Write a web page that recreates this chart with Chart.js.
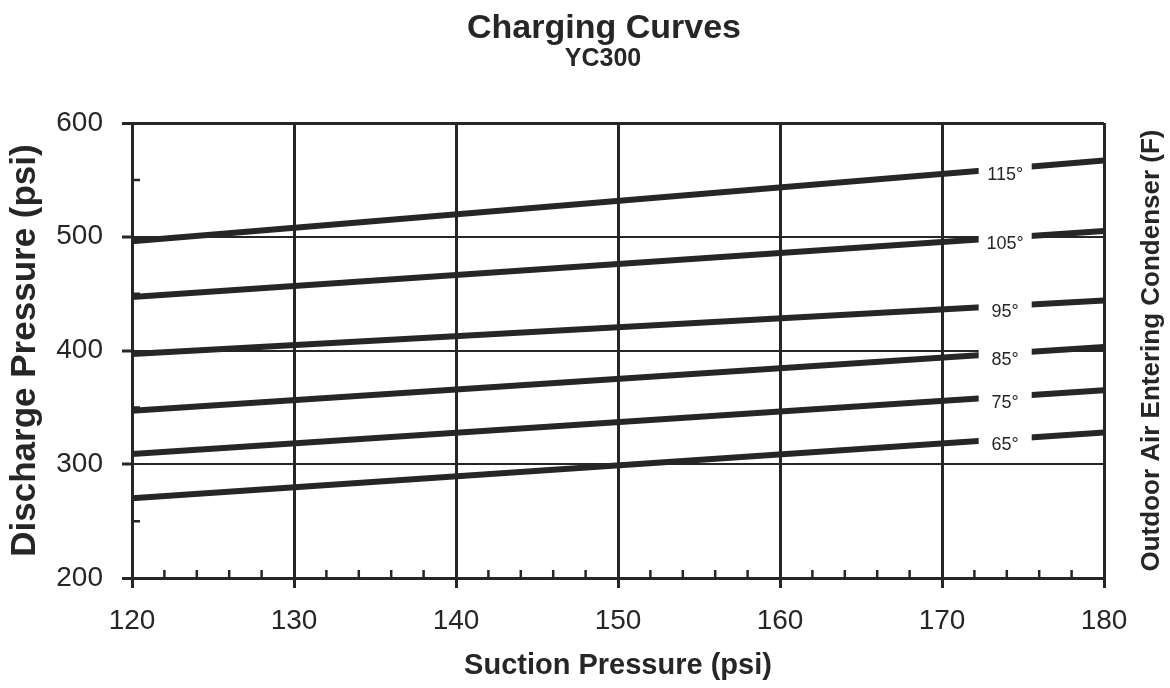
<!DOCTYPE html>
<html>
<head>
<meta charset="utf-8">
<script src="https://cdn.jsdelivr.net/npm/chart.js@4.4.1/dist/chart.umd.min.js"></script>
<style>
  html, body { margin: 0; padding: 0; background: #fff; }
  #wrap { width: 1170px; height: 688px; }
</style>
</head>
<body>
<div id="wrap"><canvas id="chart"></canvas></div>
<script>
// Charging curves data
const suction = [120, 180];
const curveNames = ['115°', '105°', '95°', '85°', '75°', '65°'];
const discharge115 = [496, 567];
const discharge105 = [447, 505];
const discharge95 = [397, 444];
const discharge85 = [347, 403];
const discharge75 = [309, 365];
const discharge65 = [270, 328];
const xMinorTicks = [122, 124, 126, 128, 132, 134, 136, 138, 142, 144, 146, 148,
                     152, 154, 156, 158, 162, 164, 166, 168, 172, 174, 176, 178];
const yMinorTicks = [250, 350, 450, 550];
const labelAt = 173.9; // suction psi where the curve names sit

const ink = '#262626';
const family = '"Liberation Sans", Arial, sans-serif';

const seriesValues = [discharge115, discharge105, discharge95, discharge85, discharge75, discharge65];
const datasets = seriesValues.map((vals, i) => ({
    label: curveNames[i],
    data: vals.map((v, j) => ({ x: suction[j], y: v })),
    borderColor: ink,
    borderWidth: 6,
    borderCapStyle: 'butt',
    pointRadius: 0,
    tension: 0,
    fill: false
}));

// curve names in white boxes, minor ticks, titles
const decor = {
    id: 'decor',
    afterDatasetsDraw(chart) {
        const ctx = chart.ctx;
        const xs = chart.scales.x;
        ctx.save();
        chart.data.datasets.forEach((ds, i) => {
            const pts = chart.getDatasetMeta(i).data;
            const px = xs.getPixelForValue(labelAt);
            const t = (px - pts[0].x) / (pts[1].x - pts[0].x);
            const py = pts[0].y + (pts[1].y - pts[0].y) * t;
            ctx.fillStyle = '#fff';
            ctx.fillRect(px - 26.5, py - 8, 53, 24);
            ctx.fillStyle = ink;
            ctx.font = '18px ' + family;
            ctx.textAlign = 'center';
            ctx.textBaseline = 'middle';
            ctx.fillText(ds.label, px, py + 6);
        });
        ctx.restore();
    },
    afterDraw(chart) {
        const ctx = chart.ctx;
        const a = chart.chartArea;
        const { x, y } = chart.scales;
        ctx.save();
        ctx.strokeStyle = ink;
        ctx.lineWidth = 2.5;
        ctx.beginPath();
        xMinorTicks.forEach(v => {
            const px = x.getPixelForValue(v);
            ctx.moveTo(px, a.bottom);
            ctx.lineTo(px, a.bottom - 8);
        });
        yMinorTicks.forEach(v => {
            const py = y.getPixelForValue(v);
            ctx.moveTo(a.left, py);
            ctx.lineTo(a.left + 8, py);
        });
        ctx.stroke();

        ctx.fillStyle = ink;
        ctx.textAlign = 'center';
        ctx.textBaseline = 'middle';
        ctx.font = 'bold 34px ' + family;
        ctx.fillText('Charging Curves', 604, 29);
        ctx.font = 'bold 25px ' + family;
        ctx.fillText('YC300', 603, 59);

        ctx.translate(1152, (a.top + a.bottom) / 2);
        ctx.rotate(-Math.PI / 2);
        ctx.font = 'bold 26px ' + family;
        ctx.fillText('Outdoor Air Entering Condenser (F)', 0, 0);
        ctx.restore();
    }
};

new Chart(document.getElementById('chart'), {
    type: 'line',
    data: { datasets: datasets },
    options: {
        responsive: true,
        maintainAspectRatio: false,
        animation: false,
        layout: { padding: { top: 123, right: 66, left: 0, bottom: 0 } },
        plugins: { legend: { display: false }, tooltip: { enabled: false } },
        scales: {
            x: {
                type: 'linear',
                min: 120,
                max: 180,
                afterFit: s => { s.height = 110; },
                ticks: { stepSize: 10, color: ink, padding: 16, font: { family: family, size: 28 } },
                grid: { color: ink, lineWidth: 3, tickLength: 10, tickWidth: 3, tickColor: ink },
                border: { display: true, color: ink, width: 3 },
                title: {
                    display: true,
                    text: 'Suction Pressure (psi)',
                    color: ink,
                    font: { family: family, size: 29, weight: 'bold' },
                    padding: { top: 0, bottom: 5 }
                }
            },
            y: {
                min: 200,
                max: 600,
                afterFit: s => { s.width = 132; },
                ticks: { stepSize: 100, color: ink, padding: 19, font: { family: family, size: 28 } },
                grid: {
                    color: ink,
                    lineWidth: c => (c.tick && (c.tick.value === 200 || c.tick.value === 600)) ? 3 : 2,
                    tickLength: 10,
                    tickWidth: 3,
                    tickColor: ink
                },
                border: { display: true, color: ink, width: 3 },
                title: {
                    display: true,
                    text: 'Discharge Pressure (psi)',
                    color: ink,
                    font: { family: family, size: 35, weight: 'bold' },
                    padding: { top: 4, bottom: 0 }
                }
            }
        }
    },
    plugins: [decor]
});
</script>
</body>
</html>
